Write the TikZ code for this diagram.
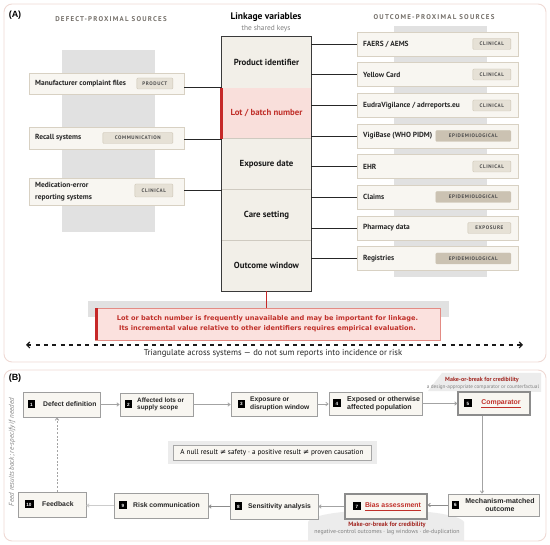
\documentclass[tikz,border=0pt]{standalone}
\usepackage{fontspec}
\setmainfont{PT Sans}
\newfontfamily\dejavu{DejaVu Sans}
\newfontfamily\libsans{Liberation Sans}
\newfontfamily\spacedfont[LetterSpace=18]{PT Sans}
\newfontfamily\tagfont[LetterSpace=12]{PT Sans}
\usetikzlibrary{arrows.meta,calc}
\definecolor{panelline}{HTML}{EFD9D4}
\definecolor{boxfill}{HTML}{F8F6F1}
\definecolor{boxline}{HTML}{D8D1C3}
\definecolor{colfill}{HTML}{F2EFE8}
\definecolor{coldark}{HTML}{3A3A3A}
\definecolor{sepline}{HTML}{CFCAC0}
\definecolor{bggray}{HTML}{E1E1E1}
\definecolor{tagAfill}{HTML}{E6E1D6}
\definecolor{tagBfill}{HTML}{CBC2B2}
\definecolor{tagline}{HTML}{CBC3B2}
\definecolor{redtxt}{HTML}{C0302A}
\definecolor{redbar}{HTML}{C62828}
\definecolor{pinkfill}{HTML}{FBE1DE}
\definecolor{lotfill}{HTML}{F9DFDB}
\definecolor{noteline}{HTML}{E38B84}
\definecolor{hdrgray}{HTML}{75706A}
\definecolor{stepline}{HTML}{9E9E9E}
\definecolor{arrowgray}{HTML}{A3A3A3}
\definecolor{lightgray}{HTML}{ECECEC}
\definecolor{txtgray}{HTML}{808080}
\newcommand\fsz[2]{\fontsize{#1}{#2}\selectfont}
\newcommand\outbox[6]{%
  \node[obox] (#1) at (437.5,#2) {};
  \node[srclbl, anchor=west] (#1t) at (363,#2) {#3};
  \node[#6, minimum width=#5pt, anchor=east] (#1g) at (511,#2) {#4};
}
\tikzset{
  panel/.style={draw=panelline, line width=0.9pt, rounded corners=8pt, fill=white},
  hdr/.style={font=\spacedfont\bfseries\fsz{6.9}{8}, text=hdrgray, inner sep=0},
  srcbox/.style={draw=boxline, fill=boxfill, line width=0.7pt, minimum width=155pt, inner sep=0},
  obox/.style={draw=boxline, fill=boxfill, line width=0.7pt, minimum width=161pt, minimum height=24pt, inner sep=0},
  srclbl/.style={font=\bfseries\fsz{7.4}{8.5}, text=black!85, inner sep=0, align=left},
  tagA/.style={fill=tagAfill, draw=tagline, line width=0.4pt, rounded corners=1pt, minimum height=11pt, inner sep=0, font=\tagfont\bfseries\fsz{5.1}{6}, text=black!70},
  tagB/.style={tagA, fill=tagBfill},
  colrow/.style={fill=colfill, minimum width=89pt, minimum height=50.8pt, inner sep=0, font=\bfseries\fsz{8.8}{10}, text=black!90},
  link/.style={draw=black!85, line width=0.9pt},
  stepbox/.style={draw=stepline, fill=boxfill, line width=0.8pt, inner sep=0},
  keybox/.style={stepbox, draw=black!45, line width=1.2pt},
  badge/.style={fill=black, text=white, minimum width=7.5pt, minimum height=8pt, inner sep=0, font=\libsans\bfseries\fsz{4.6}{5}},
  steplbl/.style={font=\libsans\bfseries\fsz{6.8}{7.6}, text=black!85, inner sep=0, align=left},
  steplblsm/.style={font=\libsans\bfseries\fsz{6.4}{7}, text=black!85, inner sep=0, align=left},
  flow/.style={draw=arrowgray, line width=0.8pt, -{Straight Barb[length=2.2pt,width=3.5pt]}},
}
\begin{document}
\begin{tikzpicture}[x=1pt,y=-1pt]
\useasboundingbox (0,0) rectangle (550,545);
% ================= Panel A =================
\node[panel, minimum width=542pt, minimum height=358pt] (pA) at (275,183) {};
\node[font=\libsans\bfseries\fsz{9}{10}, inner sep=0] (labA) at (15,15) {(A)};
\node[hdr] (hL) at (111,19) {DEFECT-PROXIMAL SOURCES};
\node[hdr] (hR) at (434,17) {OUTCOME-PROXIMAL SOURCES};
\node[font=\bfseries\fsz{9.5}{10}, inner sep=0] (ttl) at (266,17.5) {Linkage variables};
\node[font=\fsz{7.4}{8}, text=txtgray, inner sep=0] (sub) at (266,29) {the shared keys};
% backdrops
\fill[bggray] (62,50) rectangle (155,232);
\fill[bggray] (394,26) rectangle (487,277);
% left sources
\node[srcbox, minimum height=21pt] (mfr) at (106.5,83.5) {};
\node[srclbl, anchor=west] (mfrt) at (35,83.5) {Manufacturer complaint files};
\node[tagA, minimum width=36pt, anchor=east] (mfrg) at (173,83.5) {PRODUCT};
\node[srcbox, minimum height=22pt] (rec) at (106.5,138) {};
\node[srclbl, anchor=west] (rect) at (35,138) {Recall systems};
\node[tagA, minimum width=70pt, anchor=east] (recg) at (173,138) {COMMUNICATION};
\node[srcbox, minimum height=27pt] (med) at (106.5,191.5) {};
\node[srclbl, anchor=west, font=\bfseries\fsz{7.4}{11.5}] (medt) at (35,191.5) {Medication-error\\reporting systems};
\node[tagA, minimum width=38pt, minimum height=13pt, anchor=east] (medg) at (173,190.5) {CLINICAL};
% central column
\node[fill=colfill, minimum width=89pt, minimum height=254pt, inner sep=0] (colbox) at (266.5,164) {};
\node[colrow] (r1) at (266.5,62.4) {Product identifier};
\node[colrow, fill=lotfill, text=redtxt] (r2) at (266.5,113.2) {Lot / batch number};
\node[colrow] (r3) at (266.5,164) {Exposure date};
\node[colrow] (r4) at (266.5,214.8) {Care setting};
\node[colrow] (r5) at (266.5,265.6) {Outcome window};
\draw[sepline, line width=0.7pt] (r3.north west) -- (r3.north east);
\draw[sepline, line width=0.7pt] (r4.north west) -- (r4.north east);
\draw[sepline, line width=0.7pt] (r5.north west) -- (r5.north east);
\draw[coldark, line width=1pt] (colbox.north west) rectangle (colbox.south east);
\fill[redbar] ($(r2.north west)+(-1.5,0)$) rectangle ($(r2.south west)+(1.5,0)$);
% right sources
\outbox{o1}{44}{FAERS / AEMS}{CLINICAL}{38}{tagA}
\outbox{o2}{74.5}{Yellow Card}{CLINICAL}{38}{tagA}
\outbox{o3}{105.5}{EudraVigilance / adrreports.eu}{CLINICAL}{38}{tagA}
\outbox{o4}{136}{VigiBase (WHO PIDM)}{EPIDEMIOLOGICAL}{75}{tagB}
\outbox{o5}{166.5}{EHR}{CLINICAL}{38}{tagA}
\outbox{o6}{197}{Claims}{EPIDEMIOLOGICAL}{75}{tagB}
\outbox{o7}{228}{Pharmacy data}{EXPOSURE}{43}{tagA}
\outbox{o8}{258.5}{Registries}{EPIDEMIOLOGICAL}{75}{tagB}
% connectors left
\draw[link] (mfr.east |- 0,87) -- (colbox.west |- 0,87);
\draw[link] (rec.east |- 0,139) -- (colbox.west |- 0,139);
\draw[link] (med.east |- 0,190) -- (colbox.west |- 0,190);
% connectors right
\foreach \i in {1,...,8} {
  \draw[link] (colbox.east |- o\i.west) -- (o\i.west);
}
% note
\fill[bggray] (88,301) rectangle (449,317);
\node[fill=pinkfill, draw=noteline, line width=0.8pt, minimum width=345pt, minimum height=32pt, inner sep=0,
  font=\dejavu\bfseries\fsz{6.6}{10}, text=redtxt, align=center] (note) at (267.5,324)
  {Lot or batch number is frequently unavailable and may be important for linkage.\\Its incremental value relative to other identifiers requires empirical evaluation.};
\fill[redbar] (note.north west) rectangle ($(note.south west)+(3,0)$);
\draw[redbar, line width=0.9pt] (colbox.south) -- (colbox.south |- note.north);
% triangulate
\coordinate (tl) at (26,345);
\coordinate (tr) at (523,345);
\draw[black!90, line width=1.1pt, dash pattern=on 4pt off 4.3pt, {Straight Barb[length=3pt,width=6pt]}-{Straight Barb[length=3pt,width=6pt]}] (tl) -- (tr);
\node[font=\fsz{8.6}{9}, text=black!85, inner sep=0] (tri) at (273,353.5) {Triangulate across systems --- do not sum reports into incidence or risk};
% ================= Panel B =================
\node[panel, minimum width=542pt, minimum height=171pt] (pB) at (275,455.5) {};
\node[font=\libsans\bfseries\fsz{9}{10}, inner sep=0] (labB) at (15,378.5) {(B)};
\node[rotate=90, font=\itshape\fsz{7}{8}, text=txtgray, inner sep=0] (fbl) at (12,452) {Feed results back; re-specify if needed};
% annotation flags
\fill[lightgray] (428,391) -- (442,373) -- (541,373) -- (541,392) -- cycle;
\node[font=\bfseries\fsz{6}{6.5}, text=redtxt!85!black, inner sep=0] (mk5) at (482,380) {Make-or-break for credibility};
\node[font=\fsz{5.2}{6}, text=txtgray, inner sep=0] (mk5s) at (483,387.5) {a design-appropriate comparator or counterfactual};
\fill[lightgray] (308,541) -- (308,522) .. controls (316,506) and (454,506) .. (464,522) -- (464,541) -- cycle;
\node[font=\bfseries\fsz{6.3}{7}, text=redtxt!85!black, inner sep=0] (mk7) at (387,525) {Make-or-break for credibility};
\node[font=\fsz{5.9}{6.5}, text=txtgray, inner sep=0] (mk7s) at (387,532.5) {negative-control outcomes · lag windows · de-duplication};
% null result
\fill[lightgray] (168,441) rectangle (377,464);
\node[fill=boxfill, draw=black!35, line width=0.6pt, minimum width=198pt, minimum height=15pt, inner sep=0, font=\fsz{7.2}{8}] (null) at (272,452.5)
  {A null result {\dejavu ≠} safety · a positive result {\dejavu ≠} proven causation};
% steps
\node[stepbox, minimum width=77pt, minimum height=25pt] (s1) at (61.5,404.5) {};
\node[badge] (b1) at (31.5,404.5) {1};
\node[steplbl, anchor=west] (l1) at (43,404.5) {Defect definition};
\node[stepbox, minimum width=73pt, minimum height=23pt] (s2) at (156.5,404.5) {};
\node[badge] (b2) at (128.5,404.5) {2};
\node[steplblsm, anchor=west] (l2) at (137,404.5) {Affected lots or\\supply scope};
\node[stepbox, minimum width=86pt, minimum height=24pt] (s3) at (274,404) {};
\node[badge] (b3) at (241.5,404) {3};
\node[steplblsm, anchor=west, font=\libsans\bfseries\fsz{6.7}{7.4}] (l3) at (250,404) {Exposure or\\disruption window};
\node[stepbox, minimum width=93pt, minimum height=23pt] (s4) at (375.5,403.5) {};
\node[badge] (b4) at (337,403.5) {4};
\node[steplblsm, anchor=west, font=\libsans\bfseries\fsz{7}{7.6}] (l4) at (347,403.5) {Exposed or otherwise\\affected population};
\node[keybox, minimum width=72pt, minimum height=23pt] (s5) at (494,403.5) {};
\node[badge] (b5) at (468,403.5) {5};
\node[font=\libsans\bfseries\fsz{6.9}{8}, text=redtxt, inner sep=0] (l5) at (501,402.5) {Comparator};
\draw[redtxt, line width=0.8pt] ($(l5.south west)+(0,1.8)$) -- ($(l5.south east)+(0,1.8)$);
\node[stepbox, minimum width=91pt, minimum height=22pt] (s6) at (493.5,505) {};
\node[badge] (b6) at (455.5,505) {6};
\node[steplbl, align=center, font=\libsans\bfseries\fsz{7}{7.6}] (l6) at (500,505) {Mechanism-matched\\outcome};
\node[keybox, minimum width=82pt, minimum height=25pt] (s7) at (386,506.5) {};
\node[badge] (b7) at (357,506.5) {7};
\node[font=\libsans\bfseries\fsz{6.9}{8}, text=redtxt, inner sep=0] (l7) at (393,505.5) {Bias assessment};
\draw[redtxt, line width=0.8pt] ($(l7.south west)+(0,1.8)$) -- ($(l7.south east)+(0,1.8)$);
\node[stepbox, minimum width=88pt, minimum height=25pt] (s8) at (274,506.5) {};
\node[badge] (b8) at (238.5,506.5) {8};
\node[steplbl, anchor=west] (l8) at (248,506.5) {Sensitivity analysis};
\node[stepbox, minimum width=94pt, minimum height=25pt] (s9) at (161,505.5) {};
\node[badge] (b9) at (123,505.5) {9};
\node[steplbl, anchor=west] (l9) at (133,505.5) {Risk communication};
\node[stepbox, minimum width=68pt, minimum height=25pt] (s10) at (52,504.5) {};
\node[badge, minimum width=9pt] (b10) at (29,504.5) {10};
\node[steplbl, anchor=west] (l10) at (42,504.5) {Feedback};
% flow arrows
\draw[flow] (s1.east) -- (s2.west |- s1.east);
\draw[flow] (s2.east) -- (s3.west |- s2.east);
\draw[flow] (s3.east) -- (s4.west |- s3.east);
\draw[flow] (s4.east) -- (s5.west |- s4.east);
\draw[flow] (s5.south -| 482,0) -- (s6.north -| 482,0);
\draw[flow, draw=black!45] (s6.west) -- (s7.east |- s6.west);
\draw[flow] (s7.west) -- (s8.east |- s7.west);
\draw[flow, draw=black!45] (s8.west) -- (s9.east |- s8.west);
\draw[flow, draw=black!20] (s9.west) -- (s10.east |- s9.west);
\draw[flow, dash pattern=on 2pt off 1.6pt, line width=0.9pt] (s10.north -| 57,0) -- (s1.south -| 57,0);
\end{tikzpicture}
\end{document}
